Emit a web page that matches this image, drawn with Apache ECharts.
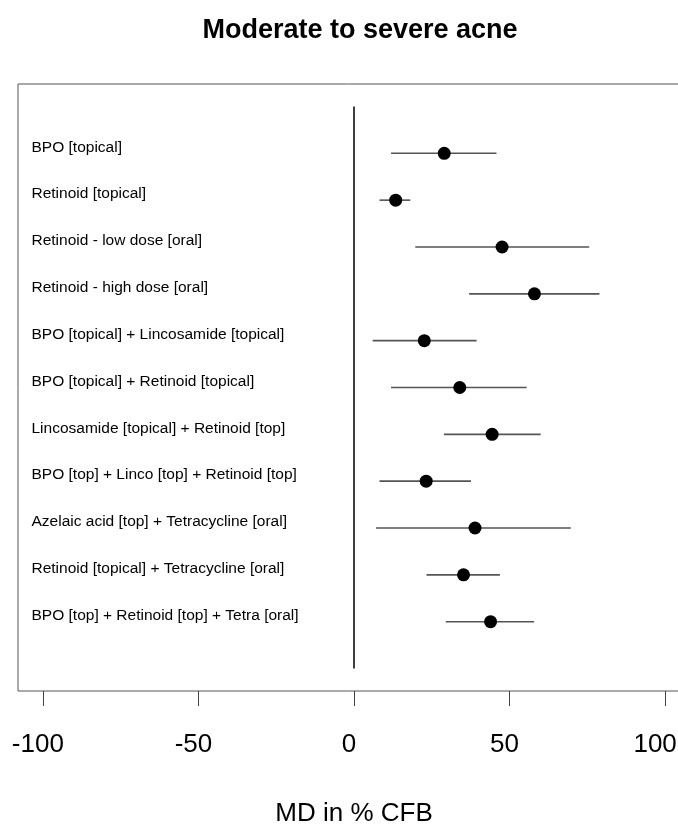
<!DOCTYPE html>
<html>
<head>
<meta charset="utf-8">
<script src="https://cdn.jsdelivr.net/npm/echarts@6/dist/echarts.min.js"></script>
<style>
html,body{margin:0;padding:0;background:#fff;overflow:hidden;}
#chart{width:678px;height:824px;}
</style>
</head>
<body>
<div id="chart"></div>
<script>
const treatments = [
  "BPO [topical]",
  "Retinoid [topical]",
  "Retinoid - low dose [oral]",
  "Retinoid - high dose [oral]",
  "BPO [topical] + Lincosamide [topical]",
  "BPO [topical] + Retinoid [topical]",
  "Lincosamide [topical] + Retinoid [top]",
  "BPO [top] + Linco [top] + Retinoid [top]",
  "Azelaic acid [top] + Tetracycline [oral]",
  "Retinoid [topical] + Tetracycline [oral]",
  "BPO [top] + Retinoid [top] + Tetra [oral]"
];
const estimates = [29.0, 13.4, 47.6, 58.0, 22.6, 34.0, 44.4, 23.2, 38.9, 35.2, 43.9];
const lowerCI   = [11.9,  8.2, 19.7, 37.0,  6.0, 11.9, 28.9,  8.2,  7.1, 23.3, 29.5];
const upperCI   = [45.8, 18.1, 75.6, 78.9, 39.4, 55.5, 60.0, 37.6, 69.7, 46.9, 57.9];
const xTicks = [-100, -50, 0, 50, 100];
const titleText = "Moderate to severe acne";
const xAxisTitle = "MD in % CFB";

const FONT = "'Liberation Sans', Arial, Helvetica, sans-serif";
const rows = treatments.map((t, i) => i + 1);
const tickLabelStyle = {fontFamily: FONT, fontSize: 26, color: '#000'};

const chart = echarts.init(document.getElementById('chart'), null, {renderer: 'canvas'});
const option = {
  animation: false,
  backgroundColor: '#ffffff',
  title: {
    text: titleText,
    left: 355,
    top: 12,
    textAlign: 'center',
    textStyle: {fontFamily: FONT, fontWeight: 'bold', fontSize: 27, color: '#000'}
  },
  grid: {
    left: 18, top: 84, width: 672, height: 607,
    outerBoundsMode: 'none', containLabel: false,
    show: true, borderColor: '#555', borderWidth: 1, backgroundColor: 'transparent'
  },
  xAxis: {
    type: 'value', min: -108, max: 108, position: 'bottom',
    name: xAxisTitle, nameLocation: 'middle', nameGap: 110,
    nameTextStyle: {fontFamily: FONT, fontSize: 26, color: '#000'},
    axisLine: {show: false, onZero: false},
    axisTick: {show: true, inside: false, length: 15, customValues: xTicks, lineStyle: {color: '#444', width: 1}},
    axisLabel: {
      show: true, customValues: xTicks, margin: 41,
      fontFamily: FONT, fontSize: 26, color: '#000',
      formatter: function (v) {
        return v === 100 ? '{e|' + v + '}' : '{n|' + v + '}';
      },
      rich: {
        n: Object.assign({padding: [0, 10, 0, 0]}, tickLabelStyle),
        e: Object.assign({padding: [0, 20, 0, 0]}, tickLabelStyle)
      }
    },
    splitLine: {show: false}
  },
  yAxis: {
    type: 'value', min: -0.48, max: 12.48, inverse: true, show: false
  },
  series: [
    {
      type: 'line',
      data: [[0, 0], [0, 12]],
      showSymbol: false, symbol: 'none',
      lineStyle: {color: '#000', width: 1.5},
      silent: true, z: 1
    },
    {
      type: 'custom',
      data: rows.map((r, i) => [lowerCI[i], upperCI[i], r]),
      renderItem: function (params, api) {
        const p1 = api.coord([api.value(0), api.value(2)]);
        const p2 = api.coord([api.value(1), api.value(2)]);
        return {
          type: 'line',
          shape: {x1: p1[0], y1: p1[1], x2: p2[0], y2: p2[1]},
          style: {stroke: '#555', lineWidth: 1.6}
        };
      },
      encode: {x: [0, 1], y: 2},
      z: 2
    },
    {
      type: 'scatter',
      data: rows.map((r, i) => [estimates[i], r]),
      symbol: 'circle', symbolSize: 13,
      itemStyle: {color: '#000', opacity: 1},
      z: 3
    },
    {
      type: 'custom',
      data: rows.map((r, i) => [-108, r, i]),
      renderItem: function (params, api) {
        const p = api.coord([api.value(0), api.value(1)]);
        return {
          type: 'text',
          x: p[0] + 13.5, y: p[1] - 6,
          style: {
            text: treatments[api.value(2)],
            fontFamily: FONT, fontSize: 15.5, fill: '#000',
            textAlign: 'left', textVerticalAlign: 'middle'
          }
        };
      },
      encode: {x: 0, y: 1},
      z: 4
    }
  ]
};
chart.setOption(option);
</script>
</body>
</html>
